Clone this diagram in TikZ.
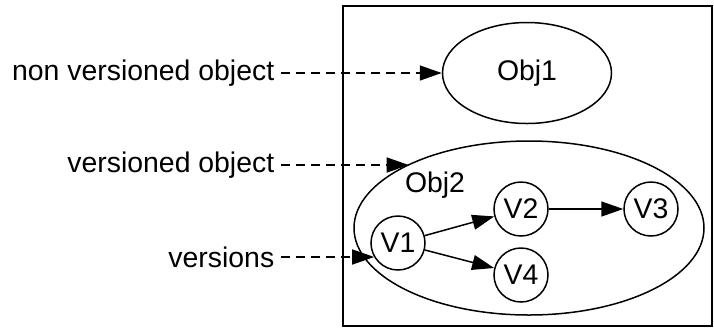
\documentclass[tikz,border=0pt]{standalone}
\usepackage{fontspec}
\setmainfont{Liberation Sans}
\usetikzlibrary{arrows.meta,shapes.geometric}
\tikzset{
  ver/.style={draw,circle,minimum size=27pt,inner sep=0pt},
  obj/.style={draw,ellipse,inner sep=0pt},
  lbl/.style={anchor=east,inner sep=3pt},
  tip/.style={-{Triangle[length=11pt,width=7.5pt]}},
  ptr/.style={tip,dash pattern=on 4.5pt off 3pt}
}
\begin{document}
\begin{tikzpicture}[x=0.5pt,y=-0.5pt,line width=0.75pt,font=\fontsize{14.2}{17}\selectfont]
\useasboundingbox (0,0) rectangle (714,329);
% frame
\draw (343,6) rectangle (712,326);
% objects
\node[obj,minimum width=84.5pt,minimum height=50.5pt] (obj1) at (527,73) {Obj1};
\node[obj,minimum width=175pt,minimum height=87pt] (obj2) at (529,228) {};
\node (obj2lbl) at (435,185) {Obj2};
% versions
\node[ver] (v1) at (398,243) {V1};
\node[ver] (v2) at (521,209) {V2};
\node[ver] (v3) at (651,209) {V3};
\node[ver] (v4) at (521,275) {V4};
\draw[tip] (v1) -- (v2);
\draw[tip] (v1) -- (v4);
\draw[tip] (v2) -- (v3);
% labels
\node[lbl] (nvo) at (281,73) {non versioned object};
\node[lbl] (vo) at (281,165) {versioned object};
\node[lbl] (vs) at (281,257) {versions};
\draw[ptr] (nvo.east) -- (obj1.west);
\draw[ptr] (vo.east) -- (vo.east -| obj2.152);
\draw[ptr] (vs.east) -- (vs.east -| v1.211);
\end{tikzpicture}
\end{document}
